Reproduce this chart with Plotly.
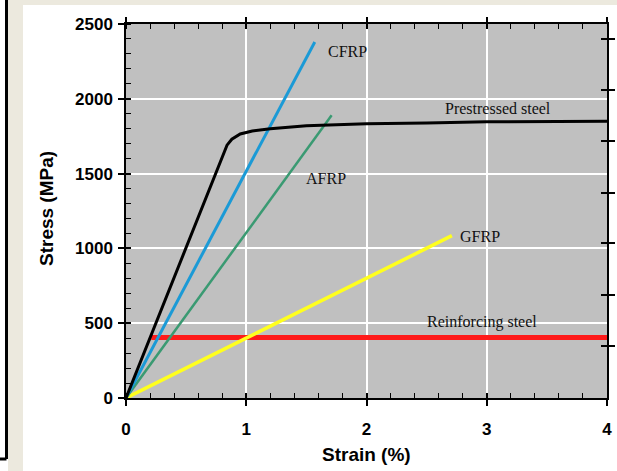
import plotly.graph_objects as go

# ---------------- data ----------------
ps_strain = [0, 0.84, 0.88, 0.95, 1.05, 1.2, 1.5, 2.0, 2.5, 3.0, 4.0]
ps_stress = [0, 1690, 1730, 1765, 1785, 1800, 1820, 1834, 1838, 1846, 1850]
cfrp_strain = [0, 1.57]
cfrp_stress = [0, 2380]
afrp_strain = [0, 1.71]
afrp_stress = [0, 1890]
gfrp_strain = [0, 2.71]
gfrp_stress = [0, 1085]
rs_strain = [0.21, 4.0]
rs_stress = [405, 405]

x_ticks = [0, 1, 2, 3, 4]
y_ticks = [0, 500, 1000, 1500, 2000, 2500]
right_ticks = [347, 687, 1033, 1373, 1720, 2060, 2400]

labels = ["CFRP", "AFRP", "GFRP", "Prestressed steel", "Reinforcing steel"]
label_x = [1.846, 1.663, 2.944, 3.094, 2.96]
label_y = [2313, 1467, 1080, 1933, 507]

# ---------------- figure ----------------
W, H = 617, 471
L, R, T, B = 126, 10, 24, 73
PW, PH = W - L - R, H - T - B

def px(xp):
    return (xp - L) / PW

def py(yp):
    return (H - B - yp) / PH

fig = go.Figure()
fig.add_trace(go.Scatter(x=rs_strain, y=rs_stress, mode="lines",
                         line=dict(color="#ff1a1a", width=5), hoverinfo="skip"))
fig.add_trace(go.Scatter(x=gfrp_strain, y=gfrp_stress, mode="lines",
                         line=dict(color="#ffff1e", width=3.5), hoverinfo="skip"))
fig.add_trace(go.Scatter(x=afrp_strain, y=afrp_stress, mode="lines",
                         line=dict(color="#3a9a72", width=2.5), hoverinfo="skip"))
fig.add_trace(go.Scatter(x=cfrp_strain, y=cfrp_stress, mode="lines",
                         line=dict(color="#1b9ad6", width=3), hoverinfo="skip"))
fig.add_trace(go.Scatter(x=ps_strain, y=ps_stress, mode="lines",
                         line=dict(color="black", width=3), hoverinfo="skip"))

# dummy traces so overlay axes are drawn
for xa, ya in [("x2", "y"), ("x3", "y"), ("x4", "y"), ("x", "y2"), ("x", "y3"), ("x", "y4")]:
    fig.add_trace(go.Scatter(x=[None], y=[None], xaxis=xa, yaxis=ya,
                             showlegend=False, hoverinfo="skip"))

tickfont = dict(family="Liberation Sans", size=17, color="black", weight="bold")

common_x = dict(range=[0, 4], tickvals=x_ticks, zeroline=False, tickcolor="black",
                tickwidth=1.5, fixedrange=True, automargin=False)
common_y = dict(range=[0, 2500], zeroline=False, tickcolor="black", tickwidth=1.5,
                fixedrange=True, automargin=False)

fig.update_layout(
    width=W, height=H,
    margin=dict(l=L, r=R, t=T, b=B, autoexpand=False),
    paper_bgcolor="white",
    plot_bgcolor="#c0c0c0",
    showlegend=False,
    xaxis=dict(**common_x, ticks="outside", ticklen=6, showline=True, linecolor="black",
               linewidth=1.5, showgrid=True, gridcolor="white", gridwidth=2,
               tickfont=tickfont, ticklabelstandoff=9,
               minor=dict(ticks="inside", ticklen=5, tickwidth=1.2, tickcolor="black",
                          dtick=0.2, tick0=0, showgrid=False)),
    xaxis3=dict(**common_x, overlaying="x", side="bottom", anchor="y", ticks="inside",
                ticklen=5, showticklabels=False, showgrid=False, showline=False),
    xaxis2=dict(**common_x, overlaying="x", side="top", anchor="y", ticks="outside",
                ticklen=5, showticklabels=False, showgrid=False, showline=True,
                linecolor="black", linewidth=1.5,
                minor=dict(ticks="inside", ticklen=5, tickwidth=1.2, tickcolor="black",
                           dtick=0.2, tick0=0, showgrid=False)),
    xaxis4=dict(**common_x, overlaying="x", side="top", anchor="y", ticks="inside",
                ticklen=5, showticklabels=False, showgrid=False, showline=False),
    yaxis=dict(**common_y, tickvals=y_ticks, ticks="outside", ticklen=6, showline=True,
               linecolor="black", linewidth=1.5, showgrid=True, gridcolor="white",
               gridwidth=2, tickfont=tickfont, ticklabelstandoff=2,
               minor=dict(ticks="inside", ticklen=5, tickwidth=1.2, tickcolor="black",
                          dtick=100, tick0=0, showgrid=False)),
    yaxis3=dict(**common_y, tickvals=y_ticks, overlaying="y", side="left", anchor="x",
                ticks="inside", ticklen=5, showticklabels=False, showgrid=False,
                showline=False),
    yaxis2=dict(**common_y, tickvals=right_ticks, overlaying="y", side="right", anchor="x",
                ticks="outside", ticklen=6, showticklabels=False, showgrid=False,
                showline=True, linecolor="black", linewidth=1.5),
    yaxis4=dict(**common_y, tickvals=right_ticks, overlaying="y", side="right", anchor="x",
                ticks="inside", ticklen=6, showticklabels=False, showgrid=False,
                showline=False),
)

annotations = []
for t, xv, yv in zip(labels, label_x, label_y):
    annotations.append(dict(x=xv, y=yv, xref="x", yref="y", text=t, showarrow=False,
                            font=dict(family="Liberation Serif", size=16, color="#111111"),
                            xanchor="center", yanchor="middle"))
annotations.append(dict(x=px(366), y=py(454), xref="paper", yref="paper", text="Strain (%)",
                        showarrow=False, xanchor="center", yanchor="middle",
                        font=dict(family="Liberation Sans", size=19, color="black",
                                  weight="bold")))
annotations.append(dict(x=px(46), y=py(209), xref="paper", yref="paper",
                        text="Stress (MPa)", textangle=-90, showarrow=False,
                        xanchor="center", yanchor="middle",
                        font=dict(family="Liberation Sans", size=19, color="black",
                                  weight="bold")))
fig.update_layout(annotations=annotations)

beige = "#ece9de"
shapes = [
    dict(type="rect", xref="paper", yref="paper", x0=px(8), x1=px(23), y0=py(0), y1=py(H),
         fillcolor=beige, line=dict(width=0), layer="below"),
    dict(type="rect", xref="paper", yref="paper", x0=px(8), x1=px(W), y0=py(0), y1=py(5),
         fillcolor=beige, line=dict(width=0), layer="below"),
    dict(type="line", xref="paper", yref="paper", x0=px(6.5), x1=px(6.5), y0=py(0),
         y1=py(459), line=dict(color="black", width=3)),
    dict(type="line", xref="paper", yref="paper", x0=px(0), x1=px(6.5), y0=py(459),
         y1=py(459), line=dict(color="black", width=3)),
]
fig.update_layout(shapes=shapes)

fig.write_html("out.html")
